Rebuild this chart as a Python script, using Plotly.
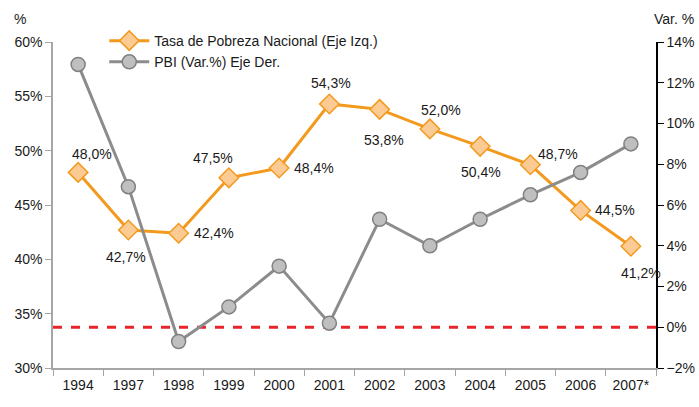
import plotly.graph_objects as go

years = ["1994", "1997", "1998", "1999", "2000", "2001", "2002", "2003", "2004", "2005", "2006", "2007*"]
pobreza = [48.0, 42.7, 42.4, 47.5, 48.4, 54.3, 53.8, 52.0, 50.4, 48.7, 44.5, 41.2]
pbi = [12.9, 6.9, -0.7, 1.0, 3.0, 0.2, 5.3, 4.0, 5.3, 6.5, 7.6, 9.0]

# pixel offsets of each value label relative to its marker
label_dx = [14, -2, 35, -16, 35, 2, 4, 11, 1, 28, 34, 10]
label_dy = [18, -27, 0, 20, 0, 21, -31, 19, -26, 11, 0, -27]

FONT = "Liberation Sans, Arial, sans-serif"
TXT = "#1a1a1a"

fig = go.Figure()
fig.add_trace(go.Scatter(
    x=years, y=pobreza, name="Tasa de Pobreza Nacional (Eje Izq.)",
    mode="lines+markers",
    line=dict(color="#F39A1E", width=3),
    marker=dict(symbol="diamond", size=15, color="#FCCB94", line=dict(color="#F39A1E", width=1.5)),
    yaxis="y", cliponaxis=False,
))
fig.add_trace(go.Scatter(
    x=years, y=pbi, name="PBI (Var.%) Eje Der.",
    mode="lines+markers",
    line=dict(color="#8C8C8C", width=3),
    marker=dict(symbol="circle", size=14, color="#BFBFBF", line=dict(color="#808080", width=1.5)),
    yaxis="y2", cliponaxis=False,
))

fig.add_shape(type="line", xref="paper", x0=0, x1=1, yref="y2", y0=0, y1=0,
              line=dict(color="#E8262A", width=3, dash="dash"), layer="below")

# value labels placed by category index on the x axis
annotations = [
    dict(x=i, y=v, xref="x", yref="y", text=f"{v:.1f}".replace(".", ",") + "%",
         xshift=dx, yshift=dy, showarrow=False, font=dict(size=14, color=TXT, family=FONT))
    for i, (v, dx, dy) in enumerate(zip(pobreza, label_dx, label_dy))
]
annotations += [
    dict(text="%", xref="paper", yref="paper", x=-0.055, y=1.04, xanchor="center",
         yanchor="bottom", showarrow=False, font=dict(size=14, color=TXT, family=FONT)),
    dict(text="Var. %", xref="paper", yref="paper", x=1.03, y=1.04, xanchor="center",
         yanchor="bottom", showarrow=False, font=dict(size=14, color=TXT, family=FONT)),
]

fig.update_layout(
    width=699, height=407,
    margin=dict(l=53, r=43, t=42, b=39),
    paper_bgcolor="white", plot_bgcolor="white",
    font=dict(family=FONT, size=14, color=TXT),
    showlegend=True,
    legend=dict(x=0.085, y=1.052, xanchor="left", yanchor="top", bgcolor="rgba(0,0,0,0)",
                font=dict(size=14, family=FONT, color=TXT), itemwidth=40, tracegroupgap=0),
    xaxis=dict(type="category", range=[-0.5, len(years) - 0.5], showgrid=False, showline=True,
               linecolor="#A6A6A6", linewidth=1.5,
               ticks="outside", tickson="boundaries", ticklen=6, tickcolor="#A6A6A6",
               ticklabelstandoff=3,
               tickangle=0, automargin=False, tickfont=dict(size=14, family=FONT, color=TXT)),
    yaxis=dict(range=[30, 60], dtick=5, ticksuffix="%", showgrid=False, zeroline=False,
               showline=True, linecolor="#A6A6A6", linewidth=1.5, ticks="outside", ticklen=6,
               tickcolor="#A6A6A6", automargin=False, tickfont=dict(size=14, family=FONT, color=TXT)),
    yaxis2=dict(range=[-2, 14], dtick=2, ticksuffix="%", overlaying="y", side="right",
                showgrid=False, zeroline=False, showline=True, linecolor="#000000", linewidth=1.5,
                ticks="outside", ticklen=6, tickcolor="#000000", automargin=False,
                tickfont=dict(size=14, family=FONT, color=TXT)),
    annotations=annotations,
)

fig.write_html("out.html")
